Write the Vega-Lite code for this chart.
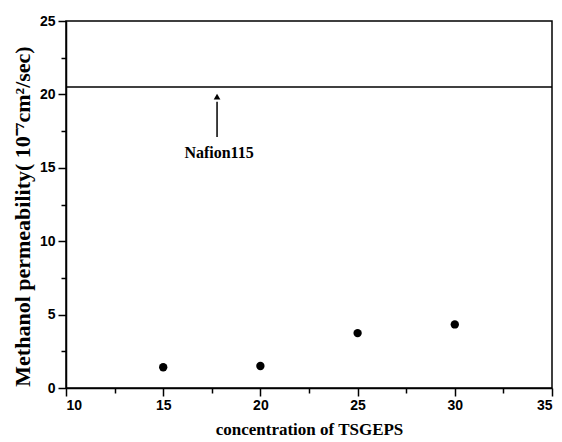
{
  "$schema": "https://vega.github.io/schema/vega-lite/v6.json",
  "width": 486,
  "height": 367,
  "autosize": {"type": "none"},
  "padding": {"left": 66, "top": 21, "right": 10, "bottom": 54},
  "background": "white",
  "config": {
    "view": {"stroke": "black", "strokeWidth": 1.5},
    "axis": {
      "domainColor": "black",
      "domainWidth": 1.5,
      "tickColor": "black",
      "tickWidth": 1.5,
      "grid": false,
      "labelFont": "Liberation Sans",
      "labelFontSize": 14,
      "labelColor": "black",
      "titleFont": "Liberation Serif",
      "titleFontWeight": "bold",
      "titleColor": "black"
    }
  },
  "datasets": {
    "points": [
      {"conc": 15, "perm": 1.41},
      {"conc": 20, "perm": 1.5},
      {"conc": 25, "perm": 3.74},
      {"conc": 30, "perm": 4.33}
    ],
    "nafion": [{"perm": 20.5}],
    "arrow": [{"conc": 17.77, "y1": 17.1, "y2": 19.5, "tip": 19.85, "label": "Nafion115", "ly": 16.0}]
  },
  "layer": [
    {
      "data": {"name": "points"},
      "mark": {"type": "point", "filled": true, "color": "black", "opacity": 1, "size": 70},
      "encoding": {
        "x": {
          "field": "conc", "type": "quantitative",
          "scale": {"domain": [10, 35], "nice": false, "zero": false},
          "axis": {"orient": "bottom", "values": [10, 15, 20, 25, 30, 35], "tickSize": 8, "labelPadding": 2, "labelFontWeight": "bold", "title": "concentration of TSGEPS", "titleFontSize": 17, "titlePadding": 9}
        },
        "y": {
          "field": "perm", "type": "quantitative",
          "scale": {"domain": [0, 25], "nice": false, "zero": false},
          "axis": {"orient": "left", "values": [0, 5, 10, 15, 20, 25], "tickSize": 8, "labelPadding": 3, "labelFontWeight": "bold", "title": "Methanol permeability( 10⁻⁷cm²/sec)", "titleFontSize": 22, "titlePadding": 5, "titleY": 195}
        }
      }
    },
    {
      "data": {"name": "nafion"},
      "mark": {"type": "rule", "color": "black", "strokeWidth": 1.5},
      "encoding": {"y": {"field": "perm", "type": "quantitative", "axis": null}}
    },
    {
      "data": {"name": "arrow"},
      "mark": {"type": "rule", "color": "black", "strokeWidth": 1.5},
      "encoding": {
        "x": {
          "field": "conc", "type": "quantitative",
          "axis": {"orient": "bottom", "values": [12.5, 17.5, 22.5, 27.5, 32.5], "tickSize": 5, "labels": false, "domain": false, "title": null}
        },
        "y": {
          "field": "y1", "type": "quantitative",
          "axis": {"orient": "left", "values": [2.5, 7.5, 12.5, 17.5, 22.5], "tickSize": 5, "labels": false, "domain": false, "title": null}
        },
        "y2": {"field": "y2"}
      }
    },
    {
      "data": {"name": "arrow"},
      "mark": {"type": "point", "shape": "triangle-up", "filled": true, "color": "black", "opacity": 1, "size": 45},
      "encoding": {
        "x": {"field": "conc", "type": "quantitative", "axis": null},
        "y": {"field": "tip", "type": "quantitative", "axis": null}
      }
    },
    {
      "data": {"name": "arrow"},
      "mark": {"type": "text", "font": "Liberation Serif", "fontWeight": "bold", "fontSize": 16, "color": "black", "baseline": "middle", "align": "center", "dx": 2},
      "encoding": {
        "x": {"field": "conc", "type": "quantitative", "axis": null},
        "y": {"field": "ly", "type": "quantitative", "axis": null},
        "text": {"field": "label"}
      }
    }
  ],
  "resolve": {"axis": {"x": "independent", "y": "independent"}}
}
